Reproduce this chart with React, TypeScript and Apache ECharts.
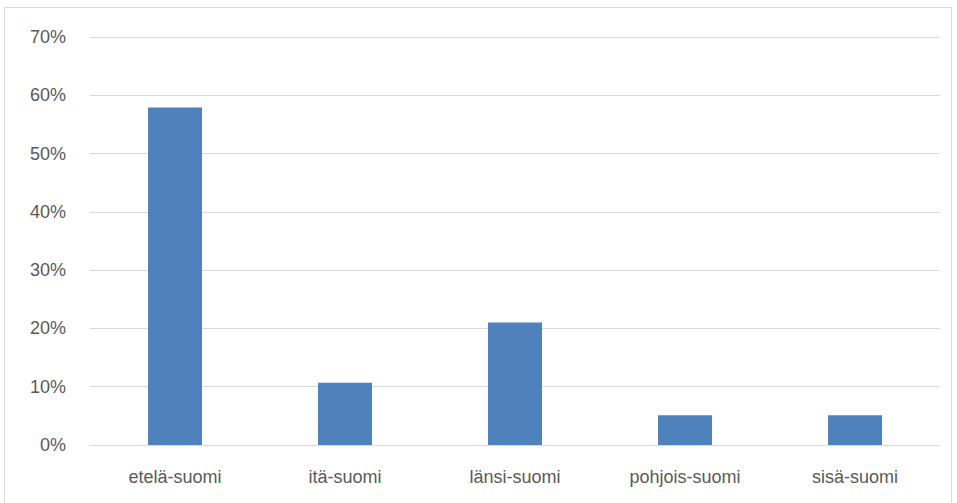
import React, { useEffect, useRef } from "react";
import * as echarts from "echarts";

const categories = ["etelä-suomi", "itä-suomi", "länsi-suomi", "pohjois-suomi", "sisä-suomi"];
const values = [0.579, 0.107, 0.21, 0.051, 0.051];
const yTicks = [0, 0.1, 0.2, 0.3, 0.4, 0.5, 0.6, 0.7];

const FONT = "'Liberation Sans Narrow', 'Liberation Sans', sans-serif";

export default function App() {
  const ref = useRef<HTMLDivElement>(null);
  useEffect(() => {
    document.body.style.margin = "0";
    const chart = echarts.init(ref.current!, null, { renderer: "svg" });
    chart.setOption({
      animation: false,
      backgroundColor: "#ffffff",
      graphic: [
        {
          type: "rect",
          shape: { x: 4.5, y: 7.5, width: 947, height: 520 },
          style: { fill: "none", stroke: "#d9d9d9", lineWidth: 1 },
          silent: true,
        },
      ],
      grid: { left: 90, right: 17, top: 37, bottom: 58 },
      xAxis: {
        type: "category",
        data: categories,
        axisLine: { show: true, lineStyle: { color: "#d9d9d9", width: 1 } },
        axisTick: { show: false },
        axisLabel: { color: "#595959", fontSize: 18, fontFamily: FONT, margin: 23 },
      },
      yAxis: {
        type: "value",
        min: yTicks[0],
        max: yTicks[yTicks.length - 1],
        interval: 0.1,
        axisLine: { show: false },
        axisTick: { show: false },
        splitLine: { lineStyle: { color: "#d9d9d9", width: 1 } },
        axisLabel: {
          color: "#595959",
          fontSize: 18,
          fontFamily: FONT,
          margin: 24,
          formatter: (v: number) => Math.round(v * 100) + "%",
        },
      },
      series: [
        {
          type: "bar",
          data: values,
          barWidth: 54,
          itemStyle: { color: "#4f81bd" },
        },
      ],
    });
    return () => chart.dispose();
  }, []);
  return <div ref={ref} style={{ position: "absolute", left: 0, top: 0, width: 957, height: 503 }} />;
}
